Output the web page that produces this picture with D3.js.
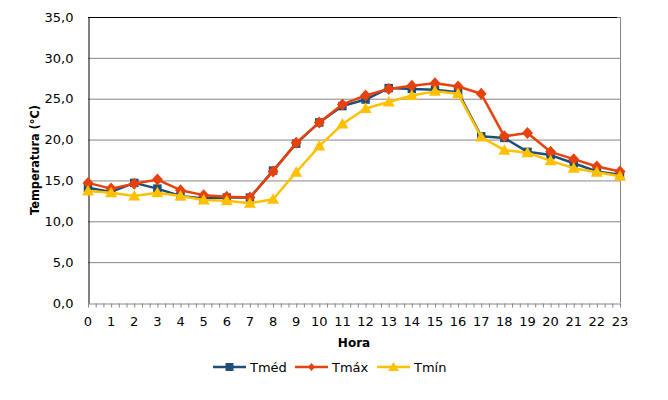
<!DOCTYPE html>
<html>
<head>
<meta charset="utf-8">
<script src="https://cdn.jsdelivr.net/npm/d3@7"></script>
<style>
  body { margin: 0; background: #fff; }
  text { font-family: "DejaVu Sans", Verdana, sans-serif; }
</style>
</head>
<body>
<div id="chart"></div>
<script>
// hours of the day
const horas = d3.range(0, 24);
// temperatures (°C)
const tMed = [14.1, 13.6, 14.7, 14.0, 13.1, 12.8, 12.9, 12.9, 16.2, 19.5, 22.1, 24.1,
              24.9, 26.3, 26.2, 26.1, 25.8, 20.4, 20.2, 18.5, 18.1, 17.1, 16.1, 15.7];
const tMax = [14.7, 14.0, 14.6, 15.1, 13.8, 13.2, 13.0, 12.9, 16.1, 19.6, 22.1, 24.3,
              25.4, 26.2, 26.6, 26.9, 26.5, 25.6, 20.4, 20.8, 18.5, 17.6, 16.7, 16.1];
const tMin = [13.7, 13.5, 13.1, 13.5, 13.1, 12.6, 12.5, 12.2, 12.7, 16.0, 19.2, 21.9,
              23.8, 24.6, 25.4, 25.9, 25.6, 20.3, 18.7, 18.4, 17.4, 16.5, 16.0, 15.5];
const yTicks = [0, 5, 10, 15, 20, 25, 30, 35];

const series = [
  {name: 'Tméd', values: tMed, color: '#1F4E79', marker: 'square'},
  {name: 'Tmáx', values: tMax, color: '#E8420C', marker: 'diamond'},
  {name: 'Tmín', values: tMin, color: '#FFC000', marker: 'triangle'}
];

const W = 668, H = 400;
const plot = {left: 88, right: 620, top: 17, bottom: 303};

const svg = d3.select('#chart').append('svg')
  .attr('width', W).attr('height', H);

const x = d3.scaleLinear().domain([0, 23]).range([plot.left, plot.right]);
const y = d3.scaleLinear().domain([0, 35]).range([plot.bottom, plot.top]);

// gridlines
svg.append('g')
  .selectAll('line')
  .data(yTicks.filter(d => d > 0))
  .join('line')
  .attr('x1', plot.left).attr('x2', plot.right)
  .attr('y1', d => y(d) + 0.5).attr('y2', d => y(d) + 0.5)
  .attr('stroke', '#868686').attr('stroke-width', 1);

// right border grey, top border black
svg.append('line')
  .attr('x1', plot.right + 0.5).attr('x2', plot.right + 0.5)
  .attr('y1', plot.top).attr('y2', plot.bottom)
  .attr('stroke', '#868686');
svg.append('line')
  .attr('x1', plot.left).attr('x2', plot.right - 3)
  .attr('y1', plot.top + 0.5).attr('y2', plot.top + 0.5)
  .attr('stroke', '#000');

// x axis (grey with minor ticks)
const xAxis = d3.axisBottom(x)
  .tickValues(d3.range(0, 23.01, 1 / 3))
  .tickFormat('')
  .tickSize(4)
  .tickSizeOuter(0);
const gx = svg.append('g')
  .attr('transform', `translate(0,${plot.bottom + 0.5})`)
  .call(xAxis);
gx.selectAll('path, line').attr('stroke', '#868686');

svg.append('g')
  .selectAll('text')
  .data(horas)
  .join('text')
  .attr('x', d => x(d))
  .attr('y', 326)
  .attr('text-anchor', 'middle')
  .attr('font-size', 13)
  .attr('fill', '#000')
  .text(d => d);

// y axis
const yAxis = d3.axisLeft(y)
  .tickValues(yTicks)
  .tickFormat(d => d3.format('.1f')(d).replace('.', ','))
  .tickSize(0)
  .tickPadding(15);
const gy = svg.append('g')
  .attr('transform', `translate(${plot.left + 0.5},0)`)
  .call(yAxis);
gy.select('path').attr('stroke', '#000');
gy.selectAll('text')
  .attr('font-size', 13)
  .attr('font-family', '"DejaVu Sans", Verdana, sans-serif')
  .attr('fill', '#000');

// axis titles
svg.append('text')
  .attr('transform', `translate(39,${(plot.top + plot.bottom) / 2}) rotate(-90)`)
  .attr('text-anchor', 'middle')
  .attr('font-size', 12)
  .attr('font-weight', 'bold')
  .attr('textLength', 110)
  .attr('lengthAdjust', 'spacingAndGlyphs')
  .text('Temperatura (°C)');

svg.append('text')
  .attr('x', 354).attr('y', 347)
  .attr('text-anchor', 'middle')
  .attr('font-size', 12)
  .attr('font-weight', 'bold')
  .text('Hora');

// marker shapes
function markerPath(type) {
  if (type === 'square') return d3.symbol(d3.symbolSquare, 72)();
  if (type === 'diamond') return 'M0,-6L5.5,0L0,6L-5.5,0Z';
  return 'M0,-6L6,4.5L-6,4.5Z';
}

const line = d3.line()
  .x((d, i) => x(horas[i]))
  .y(d => y(d));

series.forEach(s => {
  const g = svg.append('g');
  g.append('path')
    .datum(s.values)
    .attr('d', line)
    .attr('fill', 'none')
    .attr('stroke', s.color)
    .attr('stroke-width', 2.5)
    .attr('stroke-linejoin', 'round');
  g.selectAll('path.m')
    .data(s.values)
    .join('path')
    .attr('class', 'm')
    .attr('transform', (d, i) => `translate(${x(horas[i])},${y(d)})`)
    .attr('d', markerPath(s.marker))
    .attr('fill', s.color);
});

// legend
const legendX = [213, 295, 377];
const leg = svg.append('g');
series.forEach((s, i) => {
  const lx = legendX[i], ly = 367;
  leg.append('line')
    .attr('x1', lx).attr('x2', lx + 33)
    .attr('y1', ly).attr('y2', ly)
    .attr('stroke', s.color).attr('stroke-width', 2.5);
  leg.append('path')
    .attr('transform', `translate(${lx + 16.5},${ly})`)
    .attr('d', s.marker === 'square' ? d3.symbol(d3.symbolSquare, 64)()
         : s.marker === 'diamond' ? 'M0,-4L3.5,0L0,4L-3.5,0Z'
         : 'M0,-5L5.5,4L-5.5,4Z')
    .attr('fill', s.color);
  leg.append('text')
    .attr('x', lx + 37).attr('y', ly + 4.5)
    .attr('font-size', 13)
    .text(s.name);
});
</script>
</body>
</html>
